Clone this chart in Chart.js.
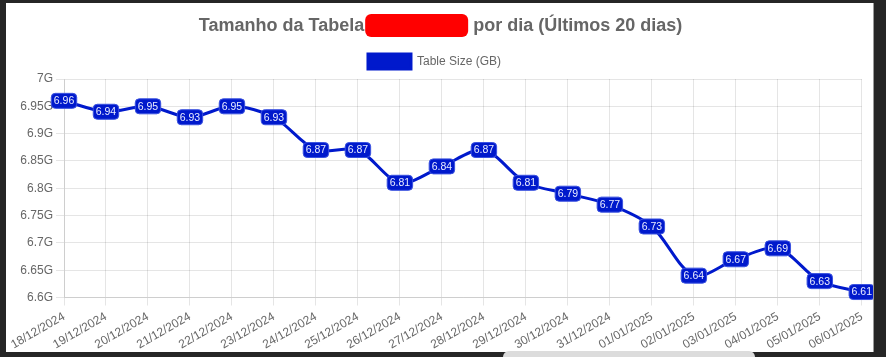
<!DOCTYPE html>
<html>
<head>
<meta charset="utf-8">
<script src="https://cdn.jsdelivr.net/npm/chart.js@4.4.1/dist/chart.umd.min.js"></script>
<style>
  html, body { margin: 0; padding: 0; background: #262626; width: 886px; height: 357px; overflow: hidden; }
  #frame { position: absolute; left: 6px; top: 3px; width: 867px; height: 349px; background: #fff; }
  #edge { position: absolute; left: 873px; top: 3px; width: 1px; height: 349px; background: #9a9a9a; }
  #bar { position: absolute; left: 503px; top: 351px; width: 252px; height: 10px; background: #dcdcdc; border-radius: 6px 6px 0 0; }
</style>
</head>
<body>
<div id="frame"><canvas id="c" width="867" height="349"></canvas></div>
<div id="edge"></div>
<div id="bar"></div>
<script>
const titlePart1 = "Tamanho da Tabela";
const titlePart2 = "por dia (Últimos 20 dias)";
const seriesLabel = "Table Size (GB)";
const categories = ["18/12/2024","19/12/2024","20/12/2024","21/12/2024","22/12/2024","23/12/2024","24/12/2024","25/12/2024","26/12/2024","27/12/2024","28/12/2024","29/12/2024","30/12/2024","31/12/2024","01/01/2025","02/01/2025","03/01/2025","04/01/2025","05/01/2025","06/01/2025"];
const tableSize = [6.96, 6.94, 6.95, 6.93, 6.95, 6.93, 6.87, 6.87, 6.81, 6.84, 6.87, 6.81, 6.79, 6.77, 6.73, 6.64, 6.67, 6.69, 6.63, 6.61];
const yTicks = [6.6, 6.65, 6.7, 6.75, 6.8, 6.85, 6.9, 6.95, 7];

const BLUE = "#0019cc";

const titlePlugin = {
  id: "customTitle",
  afterDraw(chart) {
    const ctx = chart.ctx;
    ctx.save();
    ctx.font = "bold 18px 'Liberation Sans', Arial, sans-serif";
    ctx.fillStyle = "#666";
    ctx.textBaseline = "middle";
    const gap = 109;
    const w1 = ctx.measureText(titlePart1).width;
    const w2 = ctx.measureText(titlePart2).width;
    const total = w1 + gap + w2;
    const cx = chart.width / 2 + 1;
    let x = cx - total / 2;
    const y = 23;
    ctx.textAlign = "left";
    ctx.fillText(titlePart1, x, y);
    // redaction box
    const bx = x + w1 + 1, bw = 103, by = 11, bh = 23;
    ctx.fillStyle = "#ff0000";
    ctx.beginPath();
    ctx.roundRect(bx, by, bw, bh, 6);
    ctx.fill();
    ctx.fillStyle = "#666";
    ctx.fillText(titlePart2, x + w1 + gap, y);
    ctx.restore();
  }
};

const labelPlugin = {
  id: "valueLabels",
  afterDatasetsDraw(chart) {
    const ctx = chart.ctx;
    const meta = chart.getDatasetMeta(0);
    ctx.save();
    ctx.font = "10.5px 'Liberation Sans', Arial, sans-serif";
    ctx.textAlign = "center";
    ctx.textBaseline = "middle";
    meta.data.forEach((pt, i) => {
      const txt = tableSize[i].toFixed(2);
      const w = ctx.measureText(txt).width + 5;
      const h = 15;
      ctx.fillStyle = BLUE;
      ctx.strokeStyle = "#3a52e0";
      ctx.lineWidth = 1;
      ctx.beginPath();
      ctx.roundRect(pt.x - w / 2, pt.y - h / 2, w, h, 4);
      ctx.fill();
      ctx.stroke();
      ctx.fillStyle = "#e8ecff";
      ctx.fillText(txt, pt.x, pt.y + 0.5);
    });
    ctx.restore();
  }
};

new Chart(document.getElementById("c"), {
  type: "line",
  data: {
    labels: categories,
    datasets: [{
      label: seriesLabel,
      data: tableSize,
      borderColor: BLUE,
      backgroundColor: BLUE,
      borderWidth: 3,
      pointRadius: 0,
      tension: 0.3,
      fill: false
    }]
  },
  options: {
    responsive: false,
    animation: false,
    devicePixelRatio: 1,
    layout: { padding: { top: 43, right: 10, left: 0, bottom: 0 } },
    plugins: {
      title: { display: false },
      tooltip: { enabled: false },
      legend: {
        display: true,
        labels: {
          color: "#666",
          padding: 8,
          font: { family: "'Liberation Sans', Arial, sans-serif", size: 12 },
          boxWidth: 43,
          boxHeight: 15
        }
      }
    },
    scales: {
      x: {
        grid: { color: "rgba(0,0,0,0.1)", tickLength: 8 },
        afterFit(axis) { axis.height = 54.5; },
        ticks: {
          color: "#666",
          padding: 4,
          font: { family: "'Liberation Sans', Arial, sans-serif", size: 12 },
          minRotation: 30, maxRotation: 30, autoSkip: false
        }
      },
      y: {
        min: 6.6, max: 7,
        afterFit(axis) { axis.width = 58; },
        afterBuildTicks(axis) { axis.ticks = yTicks.map(v => ({ value: v })); },
        grid: { color: "rgba(0,0,0,0.1)", tickLength: 8 },
        ticks: {
          color: "#666",
          font: { family: "'Liberation Sans', Arial, sans-serif", size: 12 },
          callback: (v) => (+v.toFixed(2)) + "G"
        }
      }
    }
  },
  plugins: [titlePlugin, labelPlugin]
});
</script>
</body>
</html>
